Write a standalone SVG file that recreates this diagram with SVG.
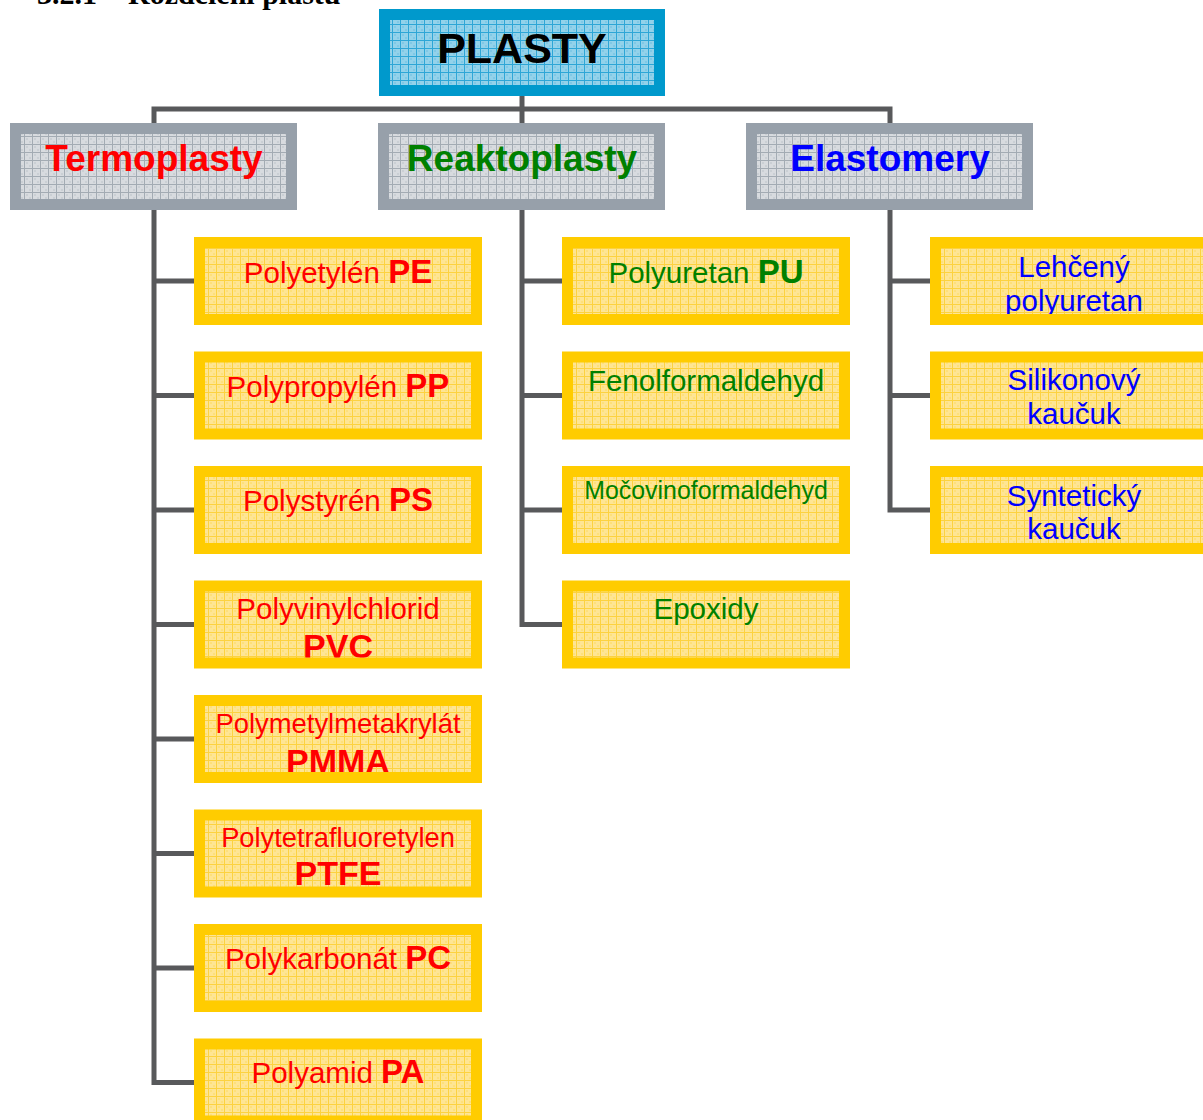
<svg xmlns="http://www.w3.org/2000/svg" width="1203" height="1120" viewBox="0 0 1203 1120">
<style>
text{font-family:"Liberation Sans",Arial,sans-serif}
.hd{font-family:"Liberation Serif","Times New Roman",serif;font-weight:bold;font-size:30px;fill:#000}
.conn{fill:none;stroke:#58595b;stroke-width:5;stroke-linejoin:miter}
.yb{fill:#ffcc00}
.yi{fill:url(#py)}
.gb{fill:#97a0aa}
.gi{fill:url(#pg)}
.bb{fill:#0099cc}
.bi{fill:url(#pb)}
.cat{font-weight:bold;font-size:37px;text-anchor:middle}
.it{font-size:29.5px;text-anchor:middle}
.b{font-weight:bold;font-size:33px}
.b2{font-weight:bold;font-size:34px}
.red{fill:#ff0000}
.grn{fill:#008000}
.blu{fill:#0000ff}
</style>
<defs>
<pattern id="py" width="8" height="8" patternUnits="userSpaceOnUse">
<rect width="8" height="8" fill="#fee594"/>
<rect x="2" y="2" width="2" height="2" fill="#fde07a"/><rect x="5" y="5" width="2" height="2" fill="#fde07a"/>
<path d="M0 0.5H8M0.5 0V8" stroke="#fcd240" stroke-width="1"/>
</pattern>
<pattern id="pg" width="8" height="8" patternUnits="userSpaceOnUse">
<rect width="8" height="8" fill="#d8dbdf"/>
<rect x="2" y="2" width="2" height="2" fill="#cacfd4"/><rect x="5" y="5" width="2" height="2" fill="#cacfd4"/>
<path d="M0 0.5H8M0.5 0V8" stroke="#a3abb3" stroke-width="1"/>
</pattern>
<pattern id="pb" width="8" height="8" patternUnits="userSpaceOnUse">
<rect width="8" height="8" fill="#93d2ea"/>
<rect x="2" y="2" width="2" height="2" fill="#7fc8e6"/><rect x="5" y="5" width="2" height="2" fill="#7fc8e6"/>
<path d="M0 0.5H8M0.5 0V8" stroke="#2ea6d6" stroke-width="1"/>
</pattern>
<clipPath id="c-pvc"><rect x="205" y="591.5" width="266" height="66"/></clipPath>
<clipPath id="c-pmma"><rect x="205" y="706" width="266" height="66"/></clipPath>
<clipPath id="c-ptfe"><rect x="205" y="820.5" width="266" height="66"/></clipPath>
<clipPath id="c-pa"><rect x="205" y="1049.5" width="266" height="66"/></clipPath>
<clipPath id="c-e1"><rect x="941" y="248" width="266" height="66"/></clipPath>
<clipPath id="c-e2"><rect x="941" y="362.5" width="266" height="66"/></clipPath>
<clipPath id="c-e3"><rect x="941" y="477" width="266" height="66"/></clipPath>
</defs>

<text class="hd" x="37" y="4">3.2.1</text>
<text class="hd" x="128" y="4">Rozdělení plastů</text>

<g id="connectors">
<path class="conn" d="M522 96V123"/>
<path class="conn" d="M154 123V109H890V123"/>
<path class="conn" d="M154 210V1082.5H194"/>
<path class="conn" d="M154 281H194M154 395.5H194M154 510H194M154 624.5H194M154 739H194M154 853.5H194M154 968H194"/>
<path class="conn" d="M522 210V624.5H562"/>
<path class="conn" d="M522 281H562M522 395.5H562M522 510H562"/>
<path class="conn" d="M890 210V510H930"/>
<path class="conn" d="M890 281H930M890 395.5H930"/>
</g>

<g id="plasty">
<rect class="bb" x="379" y="9" width="286" height="87"/>
<rect class="bi" x="390" y="20" width="264" height="65"/>
<text x="522" y="63" text-anchor="middle" font-weight="bold" font-size="43" fill="#000">PLASTY</text>
</g>

<g id="termoplasty">
<rect class="gb" x="10" y="123" width="287" height="87"/>
<rect class="gi" x="21" y="134" width="265" height="65"/>
<text class="cat red" x="154" y="171">Termoplasty</text>
</g>
<g id="reaktoplasty">
<rect class="gb" x="378" y="123" width="287" height="87"/>
<rect class="gi" x="389" y="134" width="265" height="65"/>
<text class="cat grn" x="522" y="171">Reaktoplasty</text>
</g>
<g id="elastomery">
<rect class="gb" x="746" y="123" width="287" height="87"/>
<rect class="gi" x="757" y="134" width="265" height="65"/>
<text class="cat blu" x="890" y="171">Elastomery</text>
</g>

<g id="pe">
<rect class="yb" x="194" y="237" width="288" height="88"/>
<rect class="yi" x="205" y="248" width="266" height="66"/>
<text class="it red" x="338" y="283">Polyetylén <tspan class="b">PE</tspan></text>
</g>
<g id="pp">
<rect class="yb" x="194" y="351.5" width="288" height="88"/>
<rect class="yi" x="205" y="362.5" width="266" height="66"/>
<text class="it red" x="338" y="397">Polypropylén <tspan class="b">PP</tspan></text>
</g>
<g id="ps">
<rect class="yb" x="194" y="466" width="288" height="88"/>
<rect class="yi" x="205" y="477" width="266" height="66"/>
<text class="it red" x="338" y="510.5">Polystyrén <tspan class="b">PS</tspan></text>
</g>
<g id="pvc">
<rect class="yb" x="194" y="580.5" width="288" height="88"/>
<rect class="yi" x="205" y="591.5" width="266" height="66"/>
<g clip-path="url(#c-pvc)">
<text class="it red" x="338" y="618.5">Polyvinylchlorid</text>
<text class="it red b2" x="338" y="657.5">PVC</text>
</g>
</g>
<g id="pmma">
<rect class="yb" x="194" y="695" width="288" height="88"/>
<rect class="yi" x="205" y="706" width="266" height="66"/>
<g clip-path="url(#c-pmma)">
<text class="it red" x="338" y="732.5" font-size="27.4" style="font-size:27.4px">Polymetylmetakrylát</text>
<text class="it red b2" x="338" y="772.5">PMMA</text>
</g>
</g>
<g id="ptfe">
<rect class="yb" x="194" y="809.5" width="288" height="88"/>
<rect class="yi" x="205" y="820.5" width="266" height="66"/>
<g clip-path="url(#c-ptfe)">
<text class="it red" x="338" y="847" style="font-size:27.3px">Polytetrafluoretylen</text>
<text class="it red b2" x="338" y="884.5">PTFE</text>
</g>
</g>
<g id="pc">
<rect class="yb" x="194" y="924" width="288" height="88"/>
<rect class="yi" x="205" y="935" width="266" height="66"/>
<text class="it red" x="338" y="969">Polykarbonát <tspan class="b">PC</tspan></text>
</g>
<g id="pa">
<rect class="yb" x="194" y="1038.5" width="288" height="88"/>
<rect class="yi" x="205" y="1049.5" width="266" height="66"/>
<text class="it red" x="338" y="1082.5">Polyamid <tspan class="b">PA</tspan></text>
</g>

<g id="pu">
<rect class="yb" x="562" y="237" width="288" height="88"/>
<rect class="yi" x="573" y="248" width="266" height="66"/>
<text class="it grn" x="706" y="283">Polyuretan <tspan class="b">PU</tspan></text>
</g>
<g id="fenol">
<rect class="yb" x="562" y="351.5" width="288" height="88"/>
<rect class="yi" x="573" y="362.5" width="266" height="66"/>
<text class="it grn" x="706" y="390.5">Fenolformaldehyd</text>
</g>
<g id="mocovino">
<rect class="yb" x="562" y="466" width="288" height="88"/>
<rect class="yi" x="573" y="477" width="266" height="66"/>
<text class="it grn" x="706" y="499" style="font-size:24.9px">Močovinoformaldehyd</text>
</g>
<g id="epoxidy">
<rect class="yb" x="562" y="580.5" width="288" height="88"/>
<rect class="yi" x="573" y="591.5" width="266" height="66"/>
<text class="it grn" x="706" y="618.5">Epoxidy</text>
</g>

<g id="lehceny">
<rect class="yb" x="930" y="237" width="288" height="88"/>
<rect class="yi" x="941" y="248" width="266" height="66"/>
<g clip-path="url(#c-e1)">
<text class="it blu" x="1074" y="276.5">Lehčený</text>
<text class="it blu" x="1074" y="310.5">polyuretan</text>
</g>
</g>
<g id="silikonovy">
<rect class="yb" x="930" y="351.5" width="288" height="88"/>
<rect class="yi" x="941" y="362.5" width="266" height="66"/>
<g clip-path="url(#c-e2)">
<text class="it blu" x="1074" y="390">Silikonový</text>
<text class="it blu" x="1074" y="424">kaučuk</text>
</g>
</g>
<g id="synteticky">
<rect class="yb" x="930" y="466" width="288" height="88"/>
<rect class="yi" x="941" y="477" width="266" height="66"/>
<g clip-path="url(#c-e3)">
<text class="it blu" x="1074" y="505.5">Syntetický</text>
<text class="it blu" x="1074" y="539">kaučuk</text>
</g>
</g>
</svg>
